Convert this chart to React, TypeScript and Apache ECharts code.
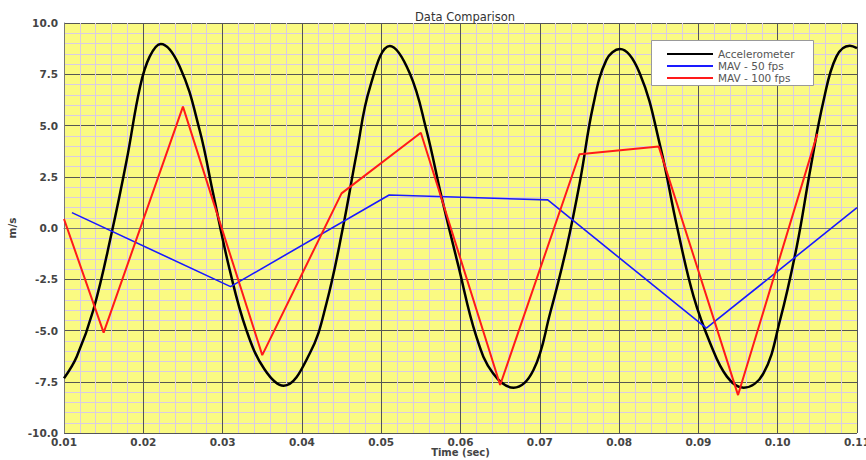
import React, { useEffect, useRef } from "react";
import * as echarts from "echarts";

const accelTime = [
  0.01, 0.0116, 0.0137, 0.016, 0.0179, 0.0196, 0.0208, 0.0222, 0.0246, 0.0271, 0.0288, 0.0309, 0.033, 0.0353,
  0.0377, 0.041, 0.0431, 0.0452, 0.0469, 0.0486, 0.0511, 0.0536, 0.0557, 0.0576, 0.0597, 0.062, 0.0641,
  0.0667, 0.0692, 0.0713, 0.0734, 0.0751, 0.0767, 0.0784, 0.0801, 0.0826, 0.0852, 0.0873, 0.0894, 0.0915,
  0.0936, 0.0957, 0.0982, 0.1003, 0.1024, 0.1041, 0.1058, 0.1074, 0.1091, 0.11,
];
const accelValues = [
  -7.33, -6.28, -4.0, -0.26, 3.3, 6.9, 8.36, 8.98, 7.87, 4.78, 1.69, -2.05, -4.98, -6.9,
  -7.69, -6.11, -3.67, 0.07, 3.64, 6.89, 8.88, 7.55, 4.78, 1.53, -1.8, -5.3, -7.09,
  -7.79, -6.93, -4.16, -0.91, 2.34, 5.92, 8.2, 8.73, 7.55, 3.97, 0.07, -3.35, -5.63,
  -7.25, -7.79, -7.09, -4.49, -0.91, 2.83, 6.24, 8.36, 8.89, 8.77,
];

const mav50Time = [0.011, 0.031, 0.051, 0.071, 0.091, 0.11];
const mav50Values = [0.75, -2.86, 1.61, 1.37, -4.89, 0.99];

const mav100Time = [0.01, 0.015, 0.025, 0.035, 0.045, 0.055, 0.065, 0.075, 0.085, 0.095, 0.105];
const mav100Values = [0.44, -5.1, 5.92, -6.2, 1.69, 4.65, -7.66, 3.6, 3.97, -8.15, 4.59];

const seriesNames = ["Accelerometer", "MAV - 50 fps", "MAV - 100 fps"];
const seriesColors = ["#000000", "#1a1aff", "#ff1a1a"];

const zip = (xs: number[], ys: number[]) => xs.map((x, i) => [x, ys[i]]);

export default function App() {
  const ref = useRef<HTMLDivElement>(null);
  useEffect(() => {
    if (!ref.current) return;
    const chart = echarts.init(ref.current, undefined, { renderer: "svg" });
    const labelFont = {
      fontFamily: "DejaVu Sans",
      fontWeight: "bold" as const,
      fontSize: 10.5,
      color: "#444",
    };
    chart.setOption({
      animation: false,
      backgroundColor: "#ffffff",
      title: {
        text: "Data Comparison",
        left: 460,
        textAlign: "center",
        top: 6,
        textStyle: { fontFamily: "DejaVu Sans", fontSize: 11.5, fontWeight: "normal", color: "#333" },
      },
      grid: {
        left: 64,
        right: 9,
        top: 23,
        bottom: 27,
        show: true,
        backgroundColor: "#fafa82",
        borderWidth: 0,
        outerBoundsMode: "none",
        containLabel: false,
      },
      legend: {
        orient: "vertical",
        left: 662,
        top: 43,
        z: 20,
        itemWidth: 46,
        itemHeight: 2,
        itemGap: 0,
        icon: "rect",
        data: seriesNames,
        textStyle: { fontFamily: "DejaVu Sans", fontSize: 10.5, color: "#555", lineHeight: 12 },
      },
      graphic: [
        {
          type: "rect",
          left: 651,
          top: 40,
          z: 5,
          shape: { width: 162, height: 45 },
          style: { fill: "#ffffff", stroke: "#999999", lineWidth: 1 },
        },
      ],
      xAxis: {
        type: "value",
        min: 0.01,
        max: 0.11,
        interval: 0.01,
        name: "Time (sec)",
        nameLocation: "middle",
        nameGap: 14,
        nameMoveOverlap: false,
        nameTextStyle: { ...labelFont, fontSize: 10 },
        axisLine: { show: true, lineStyle: { color: "#777", width: 1 } },
        axisTick: { show: false },
        axisLabel: { ...labelFont, margin: 3, formatter: (v: number) => v.toFixed(2) },
        splitLine: { show: true, lineStyle: { color: "#555", width: 1 } },
        minorTick: { show: false, splitNumber: 5 },
        minorSplitLine: { show: true, lineStyle: { color: "#d9cbe4", width: 1 } },
      },
      yAxis: {
        type: "value",
        min: -10,
        max: 10,
        interval: 2.5,
        name: "m/s",
        nameLocation: "middle",
        nameGap: 47,
        nameRotate: 90,
        nameMoveOverlap: false,
        nameTextStyle: labelFont,
        axisLine: { show: true, lineStyle: { color: "#777", width: 1 } },
        axisTick: { show: false },
        axisLabel: { ...labelFont, margin: 6, formatter: (v: number) => v.toFixed(1) },
        splitLine: { show: true, lineStyle: { color: "#555", width: 1 } },
        minorTick: { show: false, splitNumber: 5 },
        minorSplitLine: { show: true, lineStyle: { color: "#d9cbe4", width: 1 } },
      },
      series: [
        {
          name: seriesNames[0],
          type: "line",
          data: zip(accelTime, accelValues),
          smooth: 0.4,
          showSymbol: false,
          symbol: "none",
          color: seriesColors[0],
          lineStyle: { color: seriesColors[0], width: 2.5 },
          z: 3,
        },
        {
          name: seriesNames[1],
          type: "line",
          data: zip(mav50Time, mav50Values),
          showSymbol: false,
          symbol: "none",
          color: seriesColors[1],
          lineStyle: { color: seriesColors[1], width: 1.6 },
          z: 3,
        },
        {
          name: seriesNames[2],
          type: "line",
          data: zip(mav100Time, mav100Values),
          showSymbol: false,
          symbol: "none",
          color: seriesColors[2],
          lineStyle: { color: seriesColors[2], width: 2 },
          z: 4,
        },
      ],
    });
    return () => chart.dispose();
  }, []);
  return <div ref={ref} style={{ width: 866, height: 460, position: "absolute", left: 0, top: 0 }} />;
}
